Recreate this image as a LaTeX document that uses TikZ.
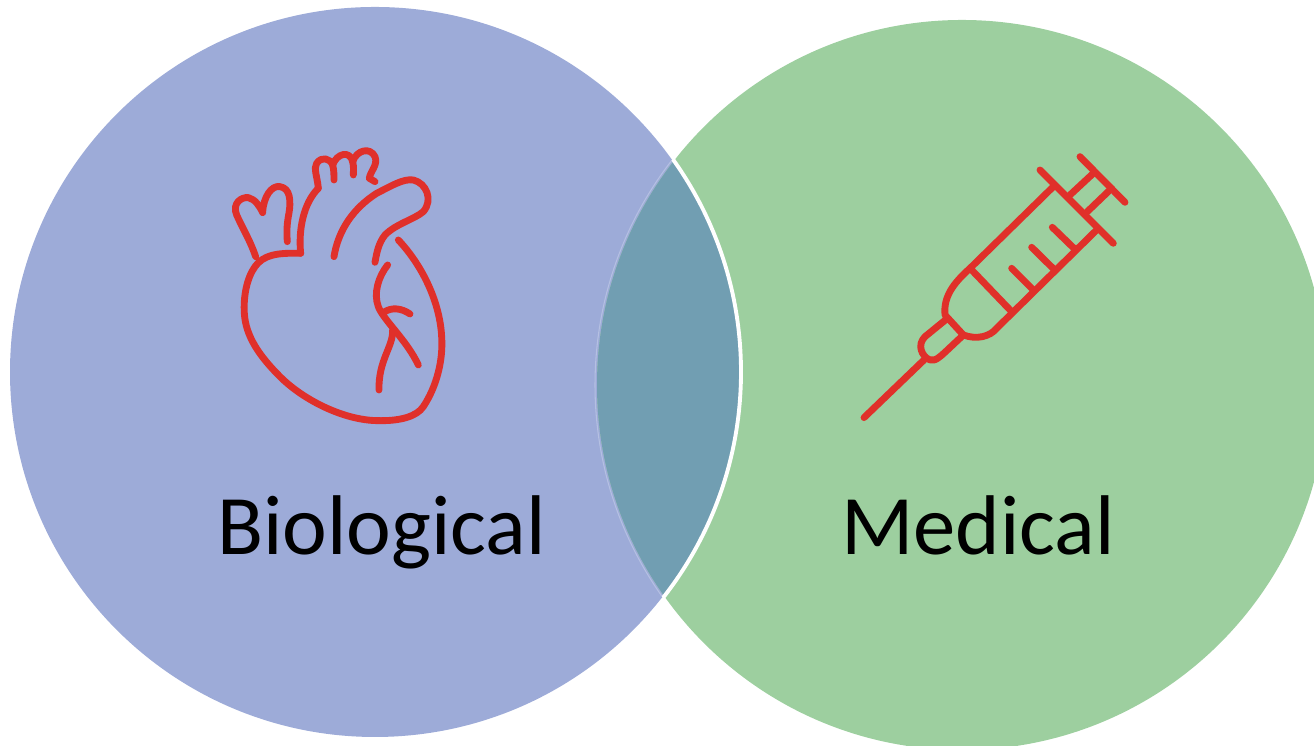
\documentclass[tikz,border=0pt]{standalone}
\usepackage{fontspec}
\setmainfont{Carlito}
\definecolor{bioblue}{HTML}{9DABD8}
\definecolor{medgreen}{HTML}{9DCF9F}
\definecolor{lens}{HTML}{719EB2}
\definecolor{lensedge}{HTML}{B5C0E2}
\definecolor{iconred}{HTML}{E0302A}
\begin{document}
\begin{tikzpicture}[line width=0.5pt,
    icon/.style={draw=iconred,line width=1.95pt,line cap=round,line join=round},
    word/.style={anchor=base,font=\fontsize{24.1}{28}\selectfont,inner sep=0pt}]
  \useasboundingbox (0,0) rectangle (13.14,7.46);
  \coordinate (B) at (3.75,3.74);
  \coordinate (G) at (9.62,3.61);
  \fill[bioblue] (B) circle (3.65);
  \fill[medgreen] (G) circle (3.65);
  \begin{scope}
    \clip (B) circle (3.65);
    \fill[lens] (G) circle (3.65);
    \draw[lensedge,line width=0.3pt] (G) circle (3.67);
  \end{scope}
  \begin{scope}
    \clip (G) circle (3.67);
    \draw[white,line width=1.1pt] (B) circle (3.66);
  \end{scope}
  \begin{scope}[shift={(2.1,6.16)},x=1cm/300,y=-1cm/300]
    \draw[icon] (137,380) .. controls (120,330) and (95,290) .. (80,255) .. controls (65,220) and (95,200) .. (115,203) .. controls (135,207) and (150,230) .. (158,248) .. controls (160,200) and (185,165) .. (210,170) .. controls (240,175) and (245,210) .. (235,260) .. controls (230,290) and (230,310) .. (232,335);
    \draw[icon] (272,370) .. controls (200,368) and (160,375) .. (135,410) .. controls (110,445) and (100,500) .. (103,550) .. controls (107,620) and (150,680) .. (210,740) .. controls (280,810) and (400,870) .. (500,872) .. controls (570,874) and (620,860) .. (640,830) .. controls (680,770) and (700,690) .. (695,620) .. controls (690,520) and (640,410) .. (565,330);
    \draw[icon] (272,370) .. controls (265,300) and (280,220) .. (325,175);
    \draw[icon] (325,175) .. controls (322,140) and (310,115) .. (320,100) .. controls (335,78) and (360,85) .. (368,105) .. controls (372,120) and (372,135) .. (372,150);
    \draw[icon] (368,105) .. controls (380,70) and (420,60) .. (428,95) .. controls (432,110) and (430,125) .. (430,135);
    \draw[icon] (428,95) .. controls (440,60) and (480,50) .. (495,80) .. controls (505,105) and (480,125) .. (478,145) -- (495,155);
    \draw[icon] (372,380) .. controls (385,300) and (430,235) .. (500,190) .. controls (540,170) and (580,145) .. (610,150) .. controls (650,160) and (670,210) .. (640,245) .. controls (610,270) and (560,280) .. (525,315) .. controls (505,340) and (500,370) .. (495,397);
    \draw[icon] (533,405) .. controls (505,440) and (490,490) .. (505,530) .. controls (520,570) and (590,630) .. (625,705);
    \draw[icon] (520,548) .. controls (545,530) and (575,535) .. (600,552);
    \draw[icon] (548,600) .. controls (550,650) and (505,690) .. (507,780);
  \end{scope}
  \begin{scope}[shift={(8.5,6.06)},x=1cm/300,y=-1cm/300]
    \draw[icon] (42,833) -- (222,660);
    \draw[icon] (290,537) -- (225,590) .. controls (200,615) and (215,650) .. (240,660) .. controls (260,665) and (270,650) .. (335,590);
    \draw[icon] (610,140) -- (360,385) .. controls (310,430) and (280,470) .. (285,525) -- (340,585) .. controls (380,600) and (420,590) .. (440,565) -- (740,270);
    \draw[icon] (570,90) -- (790,310);
    \draw[icon] (365,390) -- (485,515);
    \draw[icon] (485,385) -- (550,450);
    \draw[icon] (545,322) -- (612,388);
    \draw[icon] (607,262) -- (672,325);
    \draw[icon] (660,165) -- (730,100);
    \draw[icon] (712,215) -- (785,145);
    \draw[icon] (690,50) -- (825,187);
  \end{scope}
  \node[word] (bio) at (3.815,1.91) {Biological};
  \node[word] (med) at (9.78,1.91) {Medical};
\end{tikzpicture}
\end{document}
